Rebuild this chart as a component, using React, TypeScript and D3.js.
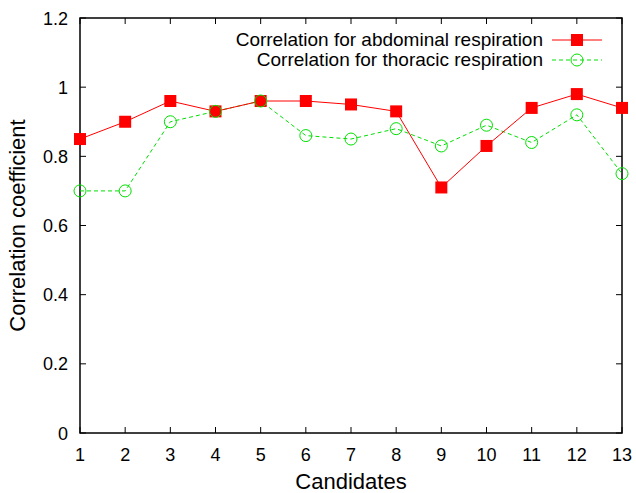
import React, { useRef, useEffect } from 'react';
import * as d3 from 'd3';

const candidates = [1, 2, 3, 4, 5, 6, 7, 8, 9, 10, 11, 12, 13];
const abdominal = [0.85, 0.9, 0.96, 0.93, 0.96, 0.96, 0.95, 0.93, 0.71, 0.83, 0.94, 0.98, 0.94];
const thoracic = [0.7, 0.7, 0.9, 0.93, 0.96, 0.86, 0.85, 0.88, 0.83, 0.89, 0.84, 0.92, 0.75];
const yTicks = [0, 0.2, 0.4, 0.6, 0.8, 1, 1.2];

const App = () => {
    const ref = useRef<SVGSVGElement>(null);

    useEffect(() => {
        const svg = d3.select(ref.current);
        svg.selectAll("*").remove();

        const margin = { top: 18, right: 14, bottom: 60, left: 80 },
              W = 636, H = 493,
              width = W - margin.left - margin.right,
              height = H - margin.top - margin.bottom;

        const g = svg.append("g").attr("transform", `translate(${margin.left},${margin.top})`);
        const font = "'Liberation Sans', Arial, sans-serif";

        const x = d3.scaleLinear().domain([1, 13]).range([0, width]);
        const y = d3.scaleLinear().domain([0, 1.2]).range([height, 0]);

        // ticks on all four sides, pointing inward
        const tick = 6;
        const grid = g.append("g").attr("stroke", "#000").attr("stroke-width", 1);
        candidates.forEach(c => {
            grid.append("line").attr("x1", x(c)).attr("x2", x(c)).attr("y1", height).attr("y2", height - tick);
            grid.append("line").attr("x1", x(c)).attr("x2", x(c)).attr("y1", 0).attr("y2", tick);
        });
        yTicks.forEach(t => {
            grid.append("line").attr("x1", 0).attr("x2", tick).attr("y1", y(t)).attr("y2", y(t));
            grid.append("line").attr("x1", width).attr("x2", width - tick).attr("y1", y(t)).attr("y2", y(t));
        });
        g.append("rect").attr("width", width).attr("height", height)
            .attr("fill", "none").attr("stroke", "#000").attr("stroke-width", 1.5);

        g.selectAll(".xl").data(candidates).enter().append("text")
            .attr("x", d => x(d)).attr("y", height + 28)
            .attr("text-anchor", "middle").style("font-family", font).style("font-size", "18px")
            .text(d => d);
        g.selectAll(".yl").data(yTicks).enter().append("text")
            .attr("x", -12).attr("y", d => y(d) + 6.5)
            .attr("text-anchor", "end").style("font-family", font).style("font-size", "18px")
            .text(d => d3.format("~g")(d));

        g.append("text").attr("x", width / 2).attr("y", height + 56)
            .attr("text-anchor", "middle").style("font-family", font).style("font-size", "22px")
            .text("Candidates");
        g.append("text").attr("transform", `translate(-55,${height / 2}) rotate(-90)`)
            .attr("text-anchor", "middle").style("font-family", font).style("font-size", "22px")
            .text("Correlation coefficient");

        const line = d3.line<number>().x((d, i) => x(candidates[i])).y(d => y(d));

        // thoracic (green dashed, open circles)
        g.append("path").datum(thoracic).attr("d", line)
            .attr("fill", "none").attr("stroke", "#00e000").attr("stroke-width", 1)
            .attr("stroke-dasharray", "4,3");
        // abdominal (red solid, filled squares)
        g.append("path").datum(abdominal).attr("d", line)
            .attr("fill", "none").attr("stroke", "#ff0000").attr("stroke-width", 1);

        const sq = 12;
        g.selectAll(".sq").data(abdominal).enter().append("rect")
            .attr("x", (d, i) => x(candidates[i]) - sq / 2).attr("y", d => y(d) - sq / 2)
            .attr("width", sq).attr("height", sq).attr("fill", "#ff0000");
        g.selectAll(".ci").data(thoracic).enter().append("circle")
            .attr("cx", (d, i) => x(candidates[i])).attr("cy", d => y(d)).attr("r", 6)
            .attr("fill", "none").attr("stroke", "#00e000").attr("stroke-width", 1);

        // legend
        const lg = svg.append("g").style("font-family", font).style("font-size", "19px");
        lg.append("text").attr("x", 543).attr("y", 46).attr("text-anchor", "end")
            .text("Correlation for abdominal respiration");
        lg.append("line").attr("x1", 552).attr("x2", 602).attr("y1", 40).attr("y2", 40)
            .attr("stroke", "#ff0000");
        lg.append("rect").attr("x", 577 - sq / 2).attr("y", 40 - sq / 2).attr("width", sq).attr("height", sq)
            .attr("fill", "#ff0000");
        lg.append("text").attr("x", 543).attr("y", 66).attr("text-anchor", "end")
            .text("Correlation for thoracic respiration");
        lg.append("line").attr("x1", 552).attr("x2", 602).attr("y1", 60).attr("y2", 60)
            .attr("stroke", "#00e000").attr("stroke-dasharray", "4,3");
        lg.append("circle").attr("cx", 577).attr("cy", 60).attr("r", 6)
            .attr("fill", "none").attr("stroke", "#00e000");
    }, []);

    return (
        <svg ref={ref} width={636} height={493}
             style={{ position: "absolute", left: 0, top: 0, background: "#fff" }} />
    );
};

export default App;
